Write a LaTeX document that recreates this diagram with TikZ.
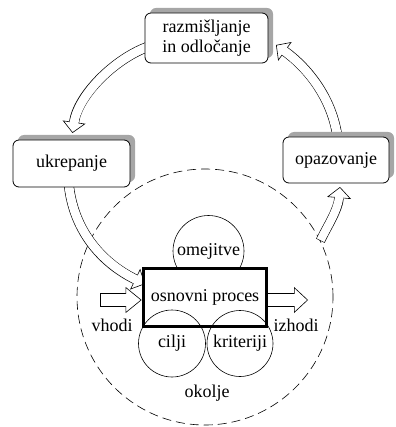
\documentclass[tikz,border=0pt]{standalone}
\usepackage{fontspec}
\setmainfont{Liberation Serif}
\usetikzlibrary{arrows.meta,shadows,calc}
% #1 outer shaft width, #2 inner shaft width, #3 head length, #4 head width,
% #5 inner shorten at end, #6 inner shorten at start, #7 path
\newcommand\harrow[7]{%
  \draw[line width=#1, shorten >=#3] #7;
  \draw[line width=0.6pt, line join=miter, -{Triangle[length=#3, width=#4, fill=white]}] #7;
  \draw[line width=#2, white, shorten >=#5, shorten <=#6] #7;
}
\begin{document}
\begin{tikzpicture}[x=1pt,y=-1pt,
  txt/.style={font=\rmfamily\fontsize{18}{20}\selectfont},
  box/.style={txt, draw, line width=0.8pt, rounded corners=6pt, fill=white, align=center, inner sep=0pt,
    general shadow={fill=gray!70, shadow xshift=5pt, shadow yshift=5pt}},
  ring/.style={txt, circle, draw, line width=0.6pt, inner sep=0pt},
  env/.style={circle, draw, line width=0.6pt, dash pattern=on 9pt off 5pt, inner sep=0pt},
]
\useasboundingbox (0,0) rectangle (395,427);

% environment
\node[env, minimum size=256pt] (env) at (205,297) {};

\path (206.5,38) coordinate (Tc) (145,38) coordinate (Tw) (268,38) coordinate (Te);
\path (71.5,140) coordinate (Un) (71.5,187) coordinate (Us);
\path (336,137) coordinate (On) (336,183) coordinate (Os);

\coordinate (s1) at ($(Tw)+(5,8)$);
\coordinate (e1) at ($(Un)+(1,-7)$);
\coordinate (s2) at ($(On)+(2,5)$);
\coordinate (e2) at ($(Te)+(8,7)$);
\coordinate (s3) at ($(Us)+(-3,-6)$);
\coordinate (e3) at (145,284);
\coordinate (s4) at (env.26);
\coordinate (e4) at ($(Os)+(4,4)$);

% cycle arrows
\harrow{10pt}{8.8pt}{11pt}{23pt}{9.5pt}{0pt}{(s1) .. controls (115,58) and (78,95) .. (e1)}
\harrow{10pt}{8.8pt}{11pt}{23pt}{9.5pt}{0pt}{(s2) .. controls (334,100) and (308,68) .. (e2)}
\harrow{10pt}{8.8pt}{11pt}{23pt}{9.5pt}{0pt}{(s3) .. controls (72,228) and (100,262) .. (e3)}
\harrow{9.5pt}{8.3pt}{11pt}{24pt}{9.5pt}{0.6pt}{(s4) .. controls (328,225) and (338,210) .. (e4)}

% process
\node[ring, minimum size=71pt] (om) at (208.5,251) {omejitve};
\node[txt, draw, line width=2.4pt, fill=white, minimum width=122pt, minimum height=57pt, inner sep=0pt] (P) at (205,297.5) {osnovni proces};
\node[ring, minimum size=67pt] (ci) at (172,343.5) {cilji};
\node[ring, minimum size=66pt] (kr) at (240,343.5) {kriteriji};

\coordinate (vin) at (100,300);
\coordinate (iout) at (308,300);
\harrow{14pt}{12.8pt}{16pt}{26pt}{14.5pt}{0.6pt}{(vin) -- ($(P.west)+(-1.2,2.5)$)}
\harrow{14pt}{12.8pt}{14pt}{26pt}{12.5pt}{0pt}{($(P.east)+(-1,2.5)$) -- (iout)}
\draw[line width=2.4pt] (P.north east) rectangle (P.south west);

\node[txt] (vh) at (112,325) {vhodi};
\node[txt] (iz) at (296,325) {izhodi};
\node[txt] (ok) at (207,393) {okolje};

% boxes
\node[box, minimum width=123pt, minimum height=50pt] (T) at (Tc) {razmišljanje\\in odločanje};
\node[box, minimum width=117pt, minimum height=47pt] (U) at (71.5,163.5) {ukrepanje};
\node[box, minimum width=106pt, minimum height=46pt] (O) at (336,160) {opazovanje};
\end{tikzpicture}
\end{document}
